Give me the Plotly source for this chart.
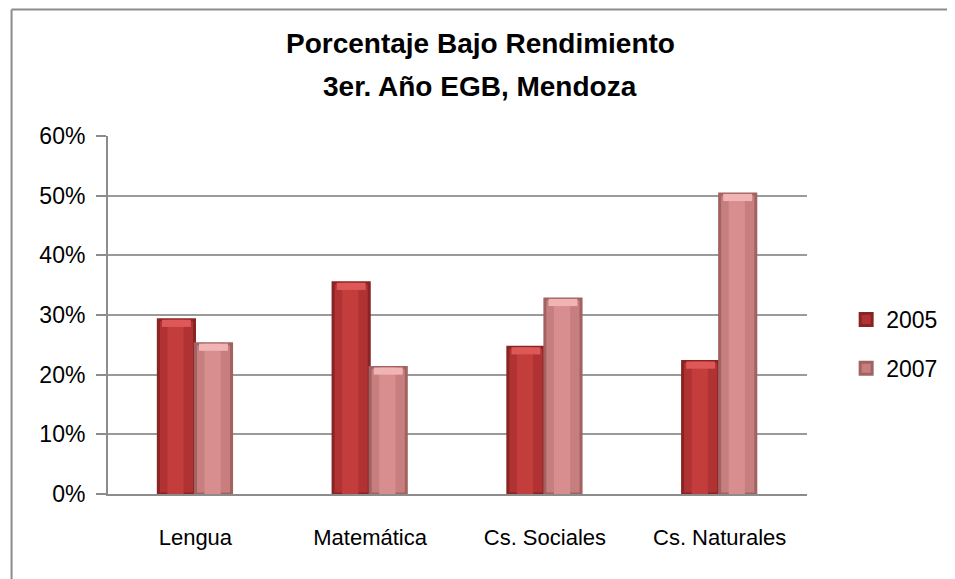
import plotly.graph_objects as go

categories = ["Lengua", "Matemática", "Cs. Sociales", "Cs. Naturales"]
series_names = ["2005", "2007"]
values_2005 = [29.2, 35.4, 24.6, 22.2]
values_2007 = [25.2, 21.2, 32.7, 50.3]
y_ticks = [0, 10, 20, 30, 40, 50, 60]
title_line1 = "Porcentaje Bajo Rendimiento"
title_line2 = "3er. Año EGB, Mendoza"

# page body has an 8px default margin; work in screen pixels and shift
OFF = 8
W, H = 955 - OFF, 579 - OFF
L, R, T, B = 108 - OFF, 955 - 822, 136 - OFF, 579 - 494
pw, ph = W - L - R, H - T - B

def px_x(px):
    return (px - OFF - L) / pw

def px_y(py):
    return (H - B - (py - OFF)) / ph

bar_w = 0.207
cap = 1.2
styles = {
    "2005": dict(edge="#8a2424", mid="#b03232", light="#c33d3d", top="#de5858", off=-0.212),
    "2007": dict(edge="#a36262", mid="#c67e7e", light="#d88e8e", top="#f0b4b4", off=0.0),
}

fig = go.Figure()
for name, vals in zip(series_names, [values_2005, values_2007]):
    s = styles[name]
    fig.add_trace(go.Bar(
        x=categories, y=vals, name=name, width=bar_w, offset=s["off"],
        marker=dict(color=s["mid"], line=dict(color=s["edge"], width=3)),
        legendgroup=name, hoverinfo="x+y+name",
    ))
    fig.add_trace(go.Bar(
        x=categories, y=vals, name=name, width=bar_w * 0.45,
        offset=s["off"] + bar_w * 0.25,
        marker=dict(color=s["light"], line=dict(width=0)),
        legendgroup=name, showlegend=False, hoverinfo="skip",
    ))
    fig.add_trace(go.Bar(
        x=categories, y=[cap] * len(vals), base=[v - cap for v in vals], name=name,
        width=bar_w * 0.8, offset=s["off"] + bar_w * 0.1,
        marker=dict(color=s["top"], line=dict(width=0)),
        legendgroup=name, showlegend=False, hoverinfo="skip",
    ))

ann_font = dict(family="Liberation Sans, Arial, sans-serif", size=28, color="#000000")
annotations = [
    dict(text="<b>" + title_line1 + "</b>", x=px_x(488), y=px_y(44), xref="paper", yref="paper",
         showarrow=False, xanchor="center", yanchor="middle", font=ann_font),
    dict(text="<b>" + title_line2 + "</b>", x=px_x(488), y=px_y(86), xref="paper", yref="paper",
         showarrow=False, xanchor="center", yanchor="middle", font=ann_font),
]

border = "#8c8c8c"
shapes = [
    dict(type="line", xref="paper", yref="paper", x0=px_x(9.5), x1=px_x(9.5), y0=px_y(600), y1=px_y(9.5),
         line=dict(color=border, width=2)),
    dict(type="line", xref="paper", yref="paper", x0=px_x(9.5), x1=px_x(965), y0=px_y(9.5), y1=px_y(9.5),
         line=dict(color=border, width=2)),
]

fig.update_layout(
    width=W, height=H,
    margin=dict(l=L, r=R, t=T, b=B, pad=0),
    paper_bgcolor="white", plot_bgcolor="white",
    barmode="overlay",
    font=dict(family="Liberation Sans, Arial, sans-serif", size=22, color="#000000"),
    showlegend=True,
    legend=dict(x=px_x(862), y=px_y(344), xanchor="left", yanchor="middle",
                font=dict(size=23), tracegroupgap=16, traceorder="grouped",
                bgcolor="rgba(0,0,0,0)", itemwidth=30),
    annotations=annotations,
    shapes=shapes,
)
fig.update_xaxes(
    showgrid=False, showline=True, linecolor="#8c8c8c", linewidth=2,
    ticks="", ticklabelstandoff=23, tickfont=dict(size=22),
)
fig.update_yaxes(
    range=[0, 60], tickvals=y_ticks, ticktext=[f"{v}%" for v in y_ticks],
    showgrid=True, gridcolor="#9a9a9a", gridwidth=2,
    showline=True, linecolor="#8c8c8c", linewidth=2,
    ticks="outside", ticklen=10, tickcolor="#8c8c8c", tickwidth=2,
    ticklabelstandoff=6, tickfont=dict(size=23), zeroline=False,
)

fig.write_html("out.html")
